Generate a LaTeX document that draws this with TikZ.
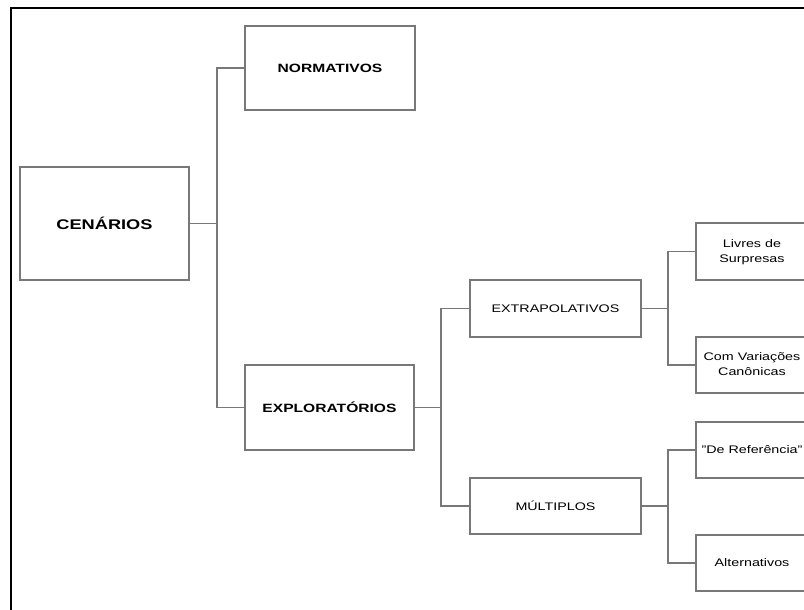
\documentclass[tikz,border=0pt]{standalone}
\usepackage{fontspec}
\usepackage{graphicx}
\setmainfont{Liberation Sans}
\newcommand{\wtxt}[1]{\scalebox{1.3}[1]{#1}}
\newcommand{\wtwo}[2]{\scalebox{1.3}[1]{\begin{tabular}{@{}c@{}}#1\\[-1pt]#2\end{tabular}}}
\definecolor{boxgray}{RGB}{120,120,120}
\tikzset{
  box/.style={draw=boxgray, line width=1.4pt, rectangle, inner sep=0pt, anchor=center},
  link/.style={draw=boxgray, line width=1.3pt},
  frameline/.style={draw=black, line width=2pt}
}
\begin{document}
\begin{tikzpicture}[x=1pt, y=-1pt]
\clip (0,0) rectangle (804,610);
\fill[white] (0,0) rectangle (804,610);
% frame
\coordinate (ftl) at (10.5,8);
\coordinate (fbl) at (10.5,612);
\coordinate (ftr) at (806,8);
\draw[frameline] (fbl) -- (ftl) -- (ftr);
% nodes
\node[box, minimum width=169pt, minimum height=113pt] (cen) at (104.5,223.5)
  {\fontsize{14}{16}\selectfont\bfseries\wtxt{CENÁRIOS}};
\node[box, minimum width=170pt, minimum height=84pt] (norm) at (330,68)
  {\fontsize{12}{14}\selectfont\bfseries\wtxt{NORMATIVOS}};
\node[box, minimum width=169pt, minimum height=85pt] (expl) at (329.5,407.5)
  {\fontsize{12}{14}\selectfont\bfseries\wtxt{EXPLORATÓRIOS}};
\node[box, minimum width=171pt, minimum height=57pt] (extra) at (555.5,308.5)
  {\fontsize{11}{13}\selectfont\wtxt{EXTRAPOLATIVOS}};
\node[box, minimum width=171pt, minimum height=56pt] (mult) at (555.5,506)
  {\fontsize{11}{13}\selectfont\wtxt{MÚLTIPLOS}};
\node[box, minimum width=112pt, minimum height=57pt] (liv) at (752,251.5)
  {\fontsize{11}{16}\selectfont\wtwo{Livres de}{Surpresas}};
\node[box, minimum width=112pt, minimum height=56pt] (com) at (752,365)
  {\fontsize{11}{16}\selectfont\wtwo{Com Variações}{Canônicas}};
\node[box, minimum width=112pt, minimum height=56pt] (ref) at (752,450)
  {\fontsize{11}{13}\selectfont\wtxt{"De Referência"}};
\node[box, minimum width=112pt, minimum height=56pt] (alt) at (752,563)
  {\fontsize{11}{13}\selectfont\wtxt{Alternativos}};
% trunks
\coordinate (t1) at (217,0);
\coordinate (t2) at (441,0);
\coordinate (t3) at (668,0);
% connectors
\draw[link] (cen.east) -- (cen.east -| t1);
\draw[link] (norm.west) -- (norm.west -| t1) -- (expl.west -| t1) -- (expl.west);
\draw[link] (expl.east) -- (expl.east -| t2);
\draw[link] (extra.west) -- (extra.west -| t2) -- (mult.west -| t2) -- (mult.west);
\draw[link] (extra.east) -- (extra.east -| t3);
\draw[link] (liv.west) -- (liv.west -| t3) -- (com.west -| t3) -- (com.west);
\draw[link] (mult.east) -- (mult.east -| t3);
\draw[link] (ref.west) -- (ref.west -| t3) -- (alt.west -| t3) -- (alt.west);
\end{tikzpicture}
\end{document}
